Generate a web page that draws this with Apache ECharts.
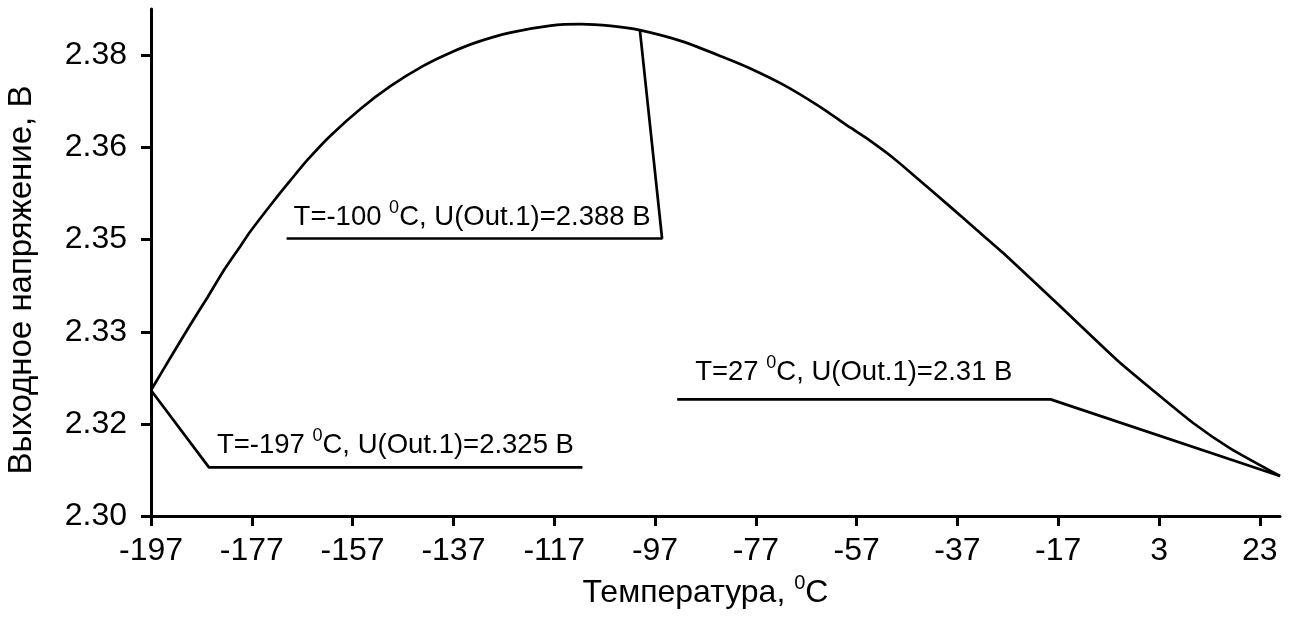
<!DOCTYPE html>
<html>
<head>
<meta charset="utf-8">
<script src="https://cdn.jsdelivr.net/npm/echarts@6/dist/echarts.min.js"></script>
<style>
  html, body { margin: 0; padding: 0; background: #ffffff; }
  #chart { width: 1289px; height: 621px; }
</style>
</head>
<body>
<div id="chart"></div>
<script>
// Output voltage of channel Out.1 versus temperature
const temperatures = [
  -197, -192.5, -189.2, -185.8, -182.6, -179.2, -177.3, -172.6, -169.3, -166,
  -161.4, -155.4, -149.5, -142.9, -137.6, -132.3, -125.7, -117.7, -111.8, -105.8,
  -100, -91.3, -83.3, -78.1, -71.4, -64.8, -58.2, -54.9, -49.6, -45,
  -38.4, -33.1, -27.8, -17.2, -5.3, 1.3, 9.9, 17.2, 27
];
const voltages = [
  2.325, 2.33165, 2.33646, 2.34124, 2.34591, 2.35029, 2.35277, 2.35816, 2.36175, 2.36525,
  2.36954, 2.37426, 2.37820, 2.38179, 2.38406, 2.38590, 2.38756, 2.38879, 2.38905, 2.38875,
  2.388, 2.38595, 2.38322, 2.38130, 2.37838, 2.37488, 2.37094, 2.36901, 2.36555, 2.36210,
  2.35708, 2.35300, 2.34892, 2.34017, 2.33025, 2.32535, 2.31918, 2.31480, 2.31
];

// Axis ticks and their labels
const xTicks = [-197, -177, -157, -137, -117, -97, -77, -57, -37, -17, 3, 23];
const yTicks = [2.303, 2.3191, 2.3352, 2.3514, 2.3675, 2.3836];
const yTickLabels = ['2.30', '2.32', '2.33', '2.35', '2.36', '2.38'];

// Temperatures at which callouts are attached to the curve
const calloutTemps = [-100, -197, 27];

const X_MIN = -197, X_MAX = 27;
const Y_MIN = 2.303, Y_MAX = 2.3917;

const FONT = '"Liberation Sans", Arial, Helvetica, sans-serif';
const INK = '#000000';

const curve = temperatures.map((t, i) => [t, voltages[i]]);

function valueAt(t) {
  return voltages[temperatures.indexOf(t)];
}

// Leader line geometry (data units): shelf ends, side of the curve point, text offset
const calloutLayout = [
  { shelf: [-170.1, -95.6], level: 2.35155, anchorSide: 'right', offset: [7, -21] },
  { shelf: [-185.5, -111.4], level: 2.3115, anchorSide: 'left',  offset: [8, -22] },
  { shelf: [-92.6, -18.5],  level: 2.3234, anchorSide: 'right', offset: [18, -27] }
];

const richSup = {
  sup: { fontSize: 18, lineHeight: 18, verticalAlign: 'top', fontFamily: FONT, color: INK }
};

const calloutSeries = calloutTemps.map((t, k) => {
  const lay = calloutLayout[k];
  const v = valueAt(t);
  const anchor = [t, v];
  const left = [lay.shelf[0], lay.level];
  const right = [lay.shelf[1], lay.level];
  const text = 'T=' + t + ' {sup|0}C, U(Out.1)=' + v + ' В';
  const labelled = {
    value: left,
    label: {
      show: true,
      position: 'inside',
      align: 'left',
      verticalAlign: 'middle',
      offset: lay.offset,
      formatter: text,
      fontFamily: FONT,
      fontSize: 27.5,
      lineHeight: 36,
      color: INK,
      rich: richSup
    }
  };
  const pts = lay.anchorSide === 'right'
    ? [labelled, { value: right }, { value: anchor }]
    : [{ value: anchor }, labelled, { value: right }];
  return {
    type: 'line',
    data: pts,
    symbol: 'circle',
    symbolSize: 0,
    showSymbol: true,
    silent: true,
    clip: false,
    lineStyle: { color: INK, width: 2.7 },
    itemStyle: { color: INK },
    z: 3
  };
});

const chart = echarts.init(document.getElementById('chart'), null, { renderer: 'canvas' });

chart.setOption({
  animation: false,
  backgroundColor: '#ffffff',
  grid: {
    left: 151, right: 9, top: 9, bottom: 105,
    containLabel: false,
    outerBoundsMode: 'none'
  },
  xAxis: {
    type: 'value',
    min: X_MIN,
    max: X_MAX,
    name: 'Температура, {sup|0}C',
    nameLocation: 'middle',
    nameGap: 57,
    nameTextStyle: {
      fontFamily: FONT, fontSize: 32, lineHeight: 41, color: INK,
      padding: [0, 20, 0, 0],
      rich: { sup: { fontSize: 20, lineHeight: 20, verticalAlign: 'top', fontFamily: FONT, color: INK } }
    },
    axisLine: { show: true, onZero: false, lineStyle: { color: INK, width: 3 } },
    axisTick: { show: true, inside: false, length: 10, customValues: xTicks, lineStyle: { color: INK, width: 3 } },
    axisLabel: {
      customValues: xTicks,
      margin: 19,
      fontFamily: FONT, fontSize: 32, color: INK
    },
    splitLine: { show: false }
  },
  yAxis: {
    type: 'value',
    min: Y_MIN,
    max: Y_MAX,
    name: 'Выходное напряжение, В',
    nameLocation: 'middle',
    nameGap: 113,
    nameRotate: 90,
    nameTextStyle: {
      fontFamily: FONT, fontSize: 33, color: INK,
      padding: [0, 35, 0, 0]
    },
    axisLine: { show: true, onZero: false, lineStyle: { color: INK, width: 3 } },
    axisTick: { show: true, inside: false, length: 10, customValues: yTicks, lineStyle: { color: INK, width: 3 } },
    axisLabel: {
      customValues: yTicks,
      margin: 24,
      fontFamily: FONT, fontSize: 32, color: INK,
      formatter: (val) => {
        let best = 0;
        yTicks.forEach((t, i) => { if (Math.abs(t - val) < Math.abs(yTicks[best] - val)) best = i; });
        return yTickLabels[best];
      }
    },
    splitLine: { show: false }
  },
  series: [
    {
      type: 'line',
      data: curve,
      symbol: 'none',
      smooth: 0.2,
      silent: true,
      clip: false,
      lineStyle: { color: INK, width: 2.7 },
      z: 4
    }
  ].concat(calloutSeries)
});
</script>
</body>
</html>
